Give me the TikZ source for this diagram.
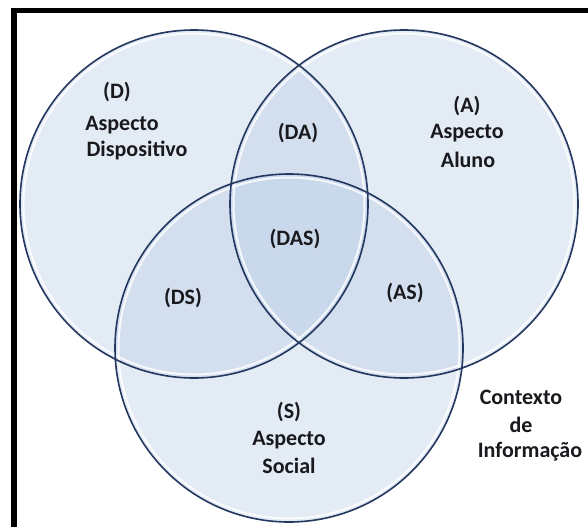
\documentclass[tikz,border=0pt]{standalone}
\usepackage{fontspec}
\setmainfont{Carlito}
\definecolor{vin}{RGB}{190,208,232}
\definecolor{vmid}{RGB}{150,178,218}
\definecolor{vout}{RGB}{90,125,180}
\definecolor{vline}{RGB}{35,55,95}
\definecolor{txt}{RGB}{25,25,30}
\pgfdeclareradialshading{venn}{\pgfpoint{0bp}{0bp}}{color(0bp)=(vin); color(36bp)=(vin); color(46bp)=(vmid); color(49bp)=(vout); color(50bp)=(vout)}
\tikzset{
  lbl/.style={font=\bfseries\fontsize{22}{26}\selectfont, text=txt, inner sep=0pt, anchor=center},
  vfill/.style={shading=venn, fill opacity=0.42},
  vborder/.style={draw=vline, line width=1.6pt},
  vgloss/.style={draw=white, line width=2pt, draw opacity=0.8}
}
\begin{document}
\begin{tikzpicture}[x=1pt,y=-1pt]
\useasboundingbox (0,0) rectangle (588,527);
\fill[white] (0,0) rectangle (588,527);
% frame
\fill[black] (11,8) rectangle (588,13);
\fill[black] (11,8) rectangle (17,527);
\coordinate (cD) at (194,204);
\coordinate (cA) at (404,204);
\coordinate (cS) at (289,348);
\def\R{174}
% fills
\shade[vfill] (cD) circle (\R);
\shade[vfill] (cA) circle (\R);
\shade[vfill] (cS) circle (\R);
% gloss
\foreach \c in {cD,cA,cS}{
  \draw[vgloss] (\c) circle (\R-3.5);
}
% borders
\foreach \c in {cD,cA,cS}{
  \draw[vborder] (\c) circle (\R);
}
% labels
\node[lbl] (tD) at (117,92) {(D)};
\node[lbl] (tD2) at (122,125) {Aspecto};
\node[lbl] (tD3) at (137,150) {Dispositivo};
\node[lbl] (tA) at (467,106) {(A)};
\node[lbl] (tA2) at (467,133) {Aspecto};
\node[lbl] (tA3) at (468,160) {Aluno};
\node[lbl] (tDA) at (298,133) {(DA)};
\node[lbl] (tDAS) at (295,239) {(DAS)};
\node[lbl] (tDS) at (183,298) {(DS)};
\node[lbl] (tAS) at (405,293) {(AS)};
\node[lbl] (tS) at (289,412) {(S)};
\node[lbl] (tS2) at (289,440) {Aspecto};
\node[lbl] (tS3) at (289,466) {Social};
\node[lbl] (tC1) at (521,397) {Contexto};
\node[lbl] (tC2) at (521,425) {de};
\node[lbl] (tC3) at (530,452) {Informação};
\end{tikzpicture}
\end{document}
